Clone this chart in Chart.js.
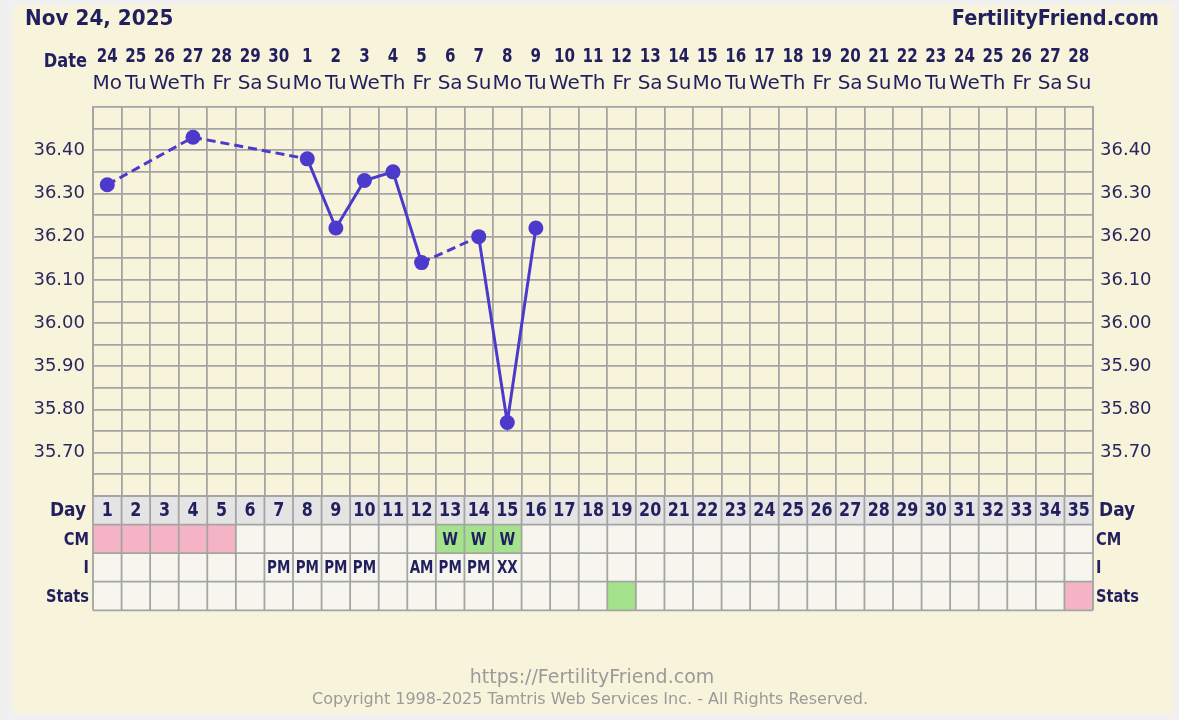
<!DOCTYPE html>
<html>
<head>
<meta charset="utf-8">
<title>Fertility chart</title>
<script src="https://cdn.jsdelivr.net/npm/chart.js@4.4.1/dist/chart.umd.min.js"></script>
<style>
  html, body { margin: 0; padding: 0; background: #f0f0f0; }
  canvas { display: block; }
</style>
</head>
<body>
<canvas id="bbtChart" width="1179" height="720"></canvas>
<script>
// calendar dates, Nov 24 -> Dec 28
const dates = [24, 25, 26, 27, 28, 29, 30, 1, 2, 3, 4, 5, 6, 7, 8, 9, 10, 11, 12, 13, 14, 15, 16, 17, 18, 19, 20, 21, 22, 23, 24, 25, 26, 27, 28];
const weekdays = ['Mo', 'Tu', 'We', 'Th', 'Fr', 'Sa', 'Su'];
const cycleDays = dates.map((d, i) => i + 1);

// temperatures (cycle day -> deg C)
const tempDays = [1, 4, 8, 9, 10, 11, 12, 14, 15, 16];
const temps = [36.32, 36.43, 36.38, 36.22, 36.33, 36.35, 36.14, 36.20, 35.77, 36.22];

// bottom table
const cmPinkDays = [1, 2, 3, 4, 5];
const cmWetDays = [13, 14, 15];
const iDays = [7, 8, 9, 10, 12, 13, 14, 15];
const iLabels = ['PM', 'PM', 'PM', 'PM', 'AM', 'PM', 'PM', 'XX'];
const statsGreenDays = [19];
const statsPinkDays = [35];

const yMin = 35.6, yMax = 36.5, yStep = 0.05;

const NAVY = '#221f5e';
const GRID = '#a4a4a4';
const LINE = '#4b3acb';
const PINK = '#f4b4c6';
const GREEN = '#a4e38c';
const F_SANS = '"DejaVu Sans", Verdana, sans-serif';
const F_COND = '"DejaVu Sans Condensed", "DejaVu Sans", sans-serif';

const series = cycleDays.map(d => {
  const k = tempDays.indexOf(d);
  return k < 0 ? null : temps[k];
});

const yLabel = v => {
  const c = Math.round(v * 100);
  return (c % 10 === 0 && c > yMin * 100 && c < yMax * 100) ? (c / 100).toFixed(2) : '';
};

// text squeezed horizontally, the original uses a narrow bold face
function txt(c, s, x, y, font, sx) {
  c.save();
  c.translate(x, y);
  c.scale(sx, 1);
  c.font = font;
  c.fillText(s, 0, 0);
  c.restore();
}

const sheet = {
  id: 'sheet',
  beforeDraw(chart) {
    const c = chart.ctx;
    c.save();
    c.fillStyle = '#f0f0f0';
    c.fillRect(0, 0, chart.width, chart.height);
    c.fillStyle = '#f8f4dc';
    c.fillRect(13, 5, 1160, 709);
    c.restore();
  },
  afterDraw(chart) {
    const c = chart.ctx;
    const xs = chart.scales.x;
    const a = chart.chartArea;
    const w = (a.right - a.left) / dates.length;
    const cx = i => xs.getPixelForValue(i);
    c.save();
    c.fillStyle = NAVY;
    c.textBaseline = 'middle';

    // header
    c.textAlign = 'left';
    txt(c, 'Nov 24, 2025', 25, 19, 'bold 21.5px ' + F_SANS, 0.93);
    c.textAlign = 'right';
    txt(c, 'FertilityFriend.com', 1159, 19, 'bold 21.5px ' + F_SANS, 0.9);

    // date rows
    txt(c, 'Date', 87, 62, 'bold 19px ' + F_COND, 0.95);
    c.textAlign = 'center';
    dates.forEach((d, i) => {
      txt(c, String(d), cx(i), 57, 'bold 19.5px ' + F_COND, 0.86);
      c.font = '20px ' + F_SANS;
      c.fillText(weekdays[i % 7], cx(i), 84);
    });

    // table below the plot
    const top = a.bottom;
    const rh = w;
    for (let r = 0; r < 4; r++) {
      for (let i = 0; i < dates.length; i++) {
        const day = i + 1;
        let bg = r === 0 ? '#e4e4e4' : '#f6f6ee';
        if (r === 1 && cmPinkDays.includes(day)) bg = PINK;
        if (r === 1 && cmWetDays.includes(day)) bg = GREEN;
        if (r === 3 && statsGreenDays.includes(day)) bg = GREEN;
        if (r === 3 && statsPinkDays.includes(day)) bg = PINK;
        c.fillStyle = bg;
        c.fillRect(a.left + i * w, top + r * rh, w, rh);
      }
    }
    c.strokeStyle = GRID;
    c.lineWidth = 1.8;
    c.beginPath();
    for (let r = 0; r <= 4; r++) {
      c.moveTo(a.left, top + r * rh);
      c.lineTo(a.right, top + r * rh);
    }
    for (let i = 0; i <= dates.length; i++) {
      c.moveTo(a.left + i * w, top);
      c.lineTo(a.left + i * w, top + 4 * rh);
    }
    c.stroke();

    c.fillStyle = NAVY;
    c.textAlign = 'center';
    cycleDays.forEach((d, i) => txt(c, String(d), cx(i), top + rh / 2 + 1, 'bold 19px ' + F_COND, 0.93));
    cmWetDays.forEach(d => txt(c, 'W', cx(d - 1), top + rh * 1.5 + 1, 'bold 18px ' + F_COND, 0.88));
    iDays.forEach((d, k) => txt(c, iLabels[k], cx(d - 1), top + rh * 2.5 + 1, 'bold 18px ' + F_COND, 0.83));

    // row labels
    const rowNames = ['Day', 'CM', 'I', 'Stats'];
    rowNames.forEach((n, r) => {
      const y = top + rh * (r + 0.5) + 1;
      const f = (r === 0 ? 'bold 19.5px ' : 'bold 18px ') + F_COND;
      const sx = r === 0 ? 0.97 : 0.9;
      c.textAlign = 'right';
      txt(c, n, r === 0 ? 86 : 89, y, f, sx);
      c.textAlign = 'left';
      txt(c, n, r === 0 ? 1099 : 1096, y, f, sx);
    });

    // footer
    c.fillStyle = '#9a9a9a';
    c.textAlign = 'center';
    c.font = '19px ' + F_SANS;
    c.fillText('https://FertilityFriend.com', 592, 678);
    c.font = '16px ' + F_SANS;
    c.fillText('Copyright 1998-2025 Tamtris Web Services Inc. - All Rights Reserved.', 590, 700);
    c.restore();
  }
};

const tickFont = { family: F_SANS, size: 18 };

new Chart(document.getElementById('bbtChart'), {
  type: 'line',
  data: {
    labels: cycleDays,
    datasets: [{
      data: series,
      borderColor: LINE,
      backgroundColor: LINE,
      borderWidth: 3,
      pointRadius: 7.5,
      pointBorderWidth: 0,
      pointBackgroundColor: LINE,
      spanGaps: true,
      segment: {
        borderDash: ctx => (ctx.p0.skip || ctx.p1.skip) ? [9, 5] : undefined
      }
    }]
  },
  options: {
    responsive: false,
    animation: false,
    layout: { padding: { top: 107, bottom: 224, left: 0, right: 0 } },
    plugins: { legend: { display: false }, tooltip: { enabled: false } },
    scales: {
      x: {
        type: 'category',
        offset: true,
        grid: { offset: true, color: GRID, lineWidth: 1.8, drawTicks: false },
        border: { color: GRID, width: 1.8 },
        ticks: { display: false },
        afterFit: s => { s.height = 0; }
      },
      y: {
        position: 'left',
        min: yMin,
        max: yMax,
        grid: { color: GRID, lineWidth: 1.8, drawTicks: false },
        border: { color: GRID, width: 1.8 },
        ticks: { stepSize: yStep, autoSkip: false, padding: 8, color: '#2a275e', font: tickFont, callback: yLabel },
        afterFit: s => { s.width = 93; }
      },
      y2: {
        position: 'right',
        min: yMin,
        max: yMax,
        grid: { display: false, drawTicks: false },
        border: { color: GRID, width: 1.8 },
        ticks: { stepSize: yStep, autoSkip: false, padding: 7, color: '#2a275e', font: tickFont, callback: yLabel },
        afterFit: s => { s.width = 86; }
      }
    }
  },
  plugins: [sheet]
});
</script>
</body>
</html>
